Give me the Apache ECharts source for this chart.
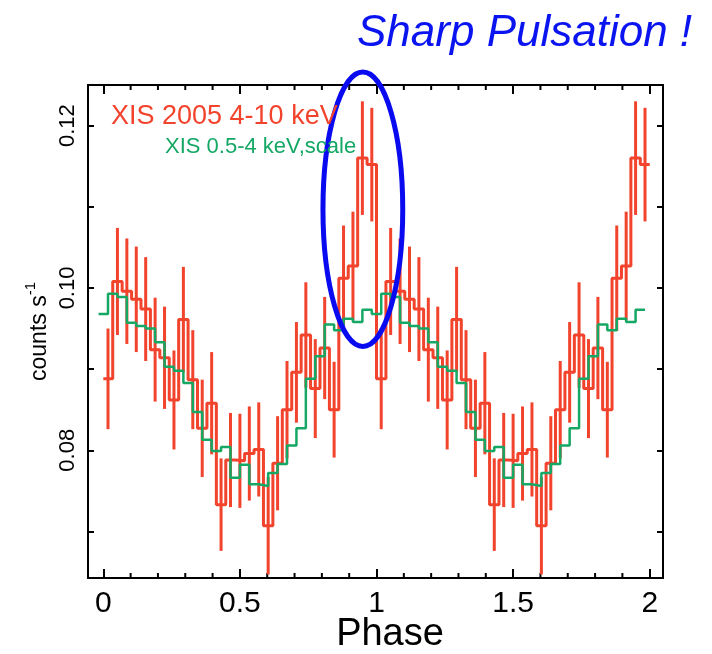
<!DOCTYPE html>
<html>
<head>
<meta charset="utf-8">
<script src="https://cdn.jsdelivr.net/npm/echarts@6/dist/echarts.min.js"></script>
<style>
html,body{margin:0;padding:0;background:#ffffff;}
#chart{width:712px;height:654px;}
</style>
</head>
<body>
<div id="chart"></div>
<script>
// ---- data (folded light curve, shown for two cycles) ----
const binsPerPhase = 29;
const periods = [0, 1];
// XIS 2005 4-10 keV, counts s^-1 per phase bin
const redRate = [0.0888, 0.1008, 0.0996, 0.0986, 0.0974, 0.0924, 0.0914, 0.0862, 0.0961, 0.0887,
                 0.0827, 0.0858, 0.0733, 0.0788, 0.0787, 0.0796, 0.0801, 0.0707, 0.0784, 0.0850,
                 0.0896, 0.0942, 0.0876, 0.0926, 0.0850, 0.1012, 0.1027, 0.1160, 0.1152];
// 1-sigma errors of the red curve
const redErr = [0.0062, 0.0066, 0.0065, 0.0065, 0.0064, 0.0064, 0.0063, 0.0061, 0.0065, 0.0061,
                0.0060, 0.0063, 0.0057, 0.0058, 0.0058, 0.0058, 0.0058, 0.0060, 0.0058, 0.0060,
                0.0062, 0.0065, 0.0061, 0.0063, 0.0059, 0.0065, 0.0067, 0.0070, 0.0070];
// XIS 0.5-4 keV, scaled
const greenRate = [0.0968, 0.0993, 0.0989, 0.0957, 0.0953, 0.0950, 0.0933, 0.0903, 0.0898, 0.0883,
                   0.0847, 0.0813, 0.0799, 0.0804, 0.0766, 0.0782, 0.0758, 0.0756, 0.0772, 0.0783,
                   0.0806, 0.0827, 0.0888, 0.0916, 0.0955, 0.0948, 0.0962, 0.0958, 0.0973];
const xMajorTicks = [0, 0.5, 1, 1.5, 2];
const xMinorTicks = [0.1, 0.2, 0.3, 0.4, 0.6, 0.7, 0.8, 0.9, 1.1, 1.2, 1.3, 1.4, 1.6, 1.7, 1.8, 1.9];
const yLabelTicks = [0.08, 0.10, 0.12];
const yMinorTicks = [0.07, 0.09, 0.11];
const redLabel = 'XIS 2005 4-10 keV';
const greenLabel = 'XIS 0.5-4 keV,scale';
const titleText = 'Sharp Pulsation !';
// highlighted peak (ellipse): centre phase, centre rate, half-width (phase), half-height (rate)
const pulseMark = [0.95, 0.1097, 0.146, 0.0169];

// ---- build series data ----
const binWidth = 1 / binsPerPhase;
function stepPoints(values, offset) {
  const pts = [];
  periods.forEach(p => {
    values.forEach((v, k) => {
      const c = p + (k + offset) * binWidth;
      pts.push([c - binWidth / 2, v], [c + binWidth / 2, v]);
    });
  });
  return pts;
}
const redStep = stepPoints(redRate, 0.5);
const greenStep = stepPoints(greenRate, 0);
const redBars = [];
periods.forEach(p => {
  redRate.forEach((v, k) => {
    redBars.push([p + (k + 0.5) * binWidth, v - redErr[k], v + redErr[k]]);
  });
});
const yAllTicks = yLabelTicks.concat(yMinorTicks);

// ---- styles ----
const FONT = "'Liberation Sans', Arial, sans-serif";
const RED = '#f2432d';
const GREEN = '#15a865';
const BLUE = '#0a0af0';
const xMin = -0.056, xMax = 2.0486;
const yMin = 0.06426, yMax = 0.12501;
const frameLine = { show: true, onZero: false, lineStyle: { color: '#000', width: 2 } };

function xAxisDef(position, withLabels) {
  const ax = {
    type: 'value', position: position, min: xMin, max: xMax,
    axisLine: frameLine,
    splitLine: { show: false },
    axisTick: { show: true, inside: true, length: 9, customValues: xMajorTicks,
                lineStyle: { color: '#000', width: 2 } },
    axisLabel: { show: false }
  };
  if (withLabels) {
    ax.axisLabel = { show: true, customValues: xMajorTicks, formatter: v => String(v),
                     fontSize: 30, color: '#000', fontFamily: FONT, margin: 11 };
    ax.name = 'Phase';
    ax.nameLocation = 'middle';
    ax.nameGap = 38;
    ax.nameMoveOverlap = false;
    ax.nameTextStyle = { fontSize: 38, color: '#000', fontFamily: FONT, padding: [0, 0, 0, 29] };
  }
  return ax;
}
function yAxisDef(position, withLabels) {
  const ax = {
    type: 'value', position: position, min: yMin, max: yMax,
    axisLine: frameLine,
    splitLine: { show: false },
    axisTick: { show: true, inside: true, length: 6, customValues: yAllTicks,
                lineStyle: { color: '#000', width: 2 } },
    axisLabel: { show: false }
  };
  if (withLabels) {
    ax.axisLabel = { show: true, customValues: yLabelTicks, rotate: 90, formatter: v => v.toFixed(2),
                     fontSize: 22, color: '#000', fontFamily: FONT, margin: 9 };
    ax.name = '{a|counts s}{b|-1}';
    ax.nameLocation = 'middle';
    ax.nameGap = 37;
    ax.nameMoveOverlap = false;
    ax.nameTextStyle = {
      color: '#000', fontFamily: FONT,
      rich: {
        a: { fontSize: 23, fontFamily: FONT, color: '#000', lineHeight: 28, verticalAlign: 'bottom' },
        b: { fontSize: 15, fontFamily: FONT, color: '#000', lineHeight: 28, verticalAlign: 'top' }
      }
    };
  }
  return ax;
}

const chart = echarts.init(document.getElementById('chart'));
chart.setOption({
  animation: false,
  backgroundColor: '#ffffff',
  grid: { left: 88, right: 49, top: 85, bottom: 76, show: false, outerBoundsMode: 'none' },
  xAxis: [
    xAxisDef('bottom', true),
    xAxisDef('top', false)
  ],
  yAxis: [
    yAxisDef('left', true),
    yAxisDef('right', false)
  ],
  series: [
    {
      // minor phase ticks (every 0.1) on the bottom and top frame, placed through the x scale
      name: 'minor ticks', type: 'custom', xAxisIndex: 0, yAxisIndex: 0, clip: false, silent: true, z: 1,
      data: xMinorTicks.map(v => [v]), encode: { x: 0 },
      renderItem: function (params, api) {
        const b = api.coord([api.value(0), yMin]);
        const t = api.coord([api.value(0), yMax]);
        const st = { stroke: '#000', lineWidth: 2 };
        return { type: 'group', children: [
          { type: 'line', shape: { x1: b[0], y1: b[1], x2: b[0], y2: b[1] - 5 }, style: st },
          { type: 'line', shape: { x1: t[0], y1: t[1], x2: t[0], y2: t[1] + 5 }, style: st }
        ] };
      }
    },
    {
      name: redLabel + ' errors', type: 'custom', xAxisIndex: 0, yAxisIndex: 0,
      data: redBars, encode: { x: 0, y: [1, 2] }, z: 2,
      renderItem: function (params, api) {
        const x = api.value(0);
        const p1 = api.coord([x, api.value(1)]);
        const p2 = api.coord([x, api.value(2)]);
        return { type: 'line', shape: { x1: p1[0], y1: p1[1], x2: p2[0], y2: p2[1] },
                 style: { stroke: RED, lineWidth: 3 } };
      }
    },
    {
      name: redLabel, type: 'line', xAxisIndex: 0, yAxisIndex: 0, data: redStep,
      showSymbol: false, symbol: 'none', lineStyle: { color: RED, width: 3 }, z: 3
    },
    {
      name: greenLabel, type: 'line', xAxisIndex: 0, yAxisIndex: 0, data: greenStep,
      showSymbol: false, symbol: 'none', lineStyle: { color: GREEN, width: 2.5 }, z: 4
    },
    {
      name: 'peak mark', type: 'custom', xAxisIndex: 0, yAxisIndex: 0, clip: false, z: 10,
      data: [pulseMark], encode: { x: 0, y: 1 },
      renderItem: function (params, api) {
        const c = api.coord([api.value(0), api.value(1)]);
        const s = api.size([api.value(2), api.value(3)]);
        return { type: 'ellipse', shape: { cx: c[0], cy: c[1], rx: s[0], ry: s[1] },
                 style: { fill: 'none', stroke: BLUE, lineWidth: 5 } };
      }
    }
  ],
  graphic: [
    { type: 'text', left: 111, top: 103, z: 100,
      style: { text: redLabel, fill: RED, font: "27px " + FONT } },
    { type: 'text', left: 165, top: 136, z: 100,
      style: { text: greenLabel, fill: GREEN, font: "22px " + FONT } },
    { type: 'text', left: 357, top: 12, z: 100,
      style: { text: titleText, fill: '#0a14f0', font: "italic 44px " + FONT,
               shadowColor: 'rgba(0,0,0,0.45)', shadowBlur: 3, shadowOffsetX: 2, shadowOffsetY: 2 } }
  ]
});
</script>
</body>
</html>
